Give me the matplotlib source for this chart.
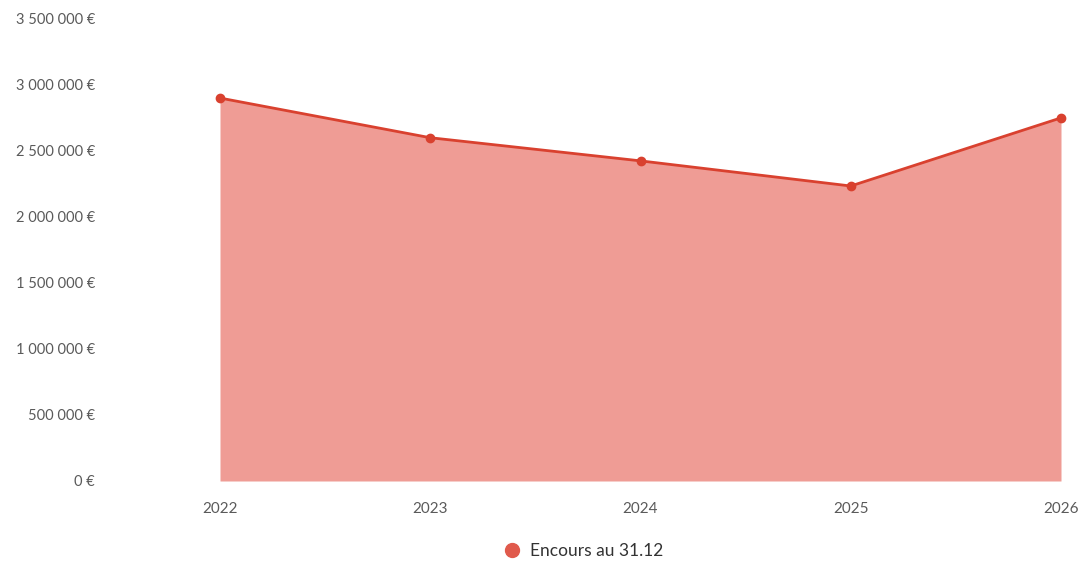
import matplotlib
matplotlib.use("Agg")
import matplotlib.pyplot as plt
from matplotlib.ticker import FuncFormatter
from matplotlib.lines import Line2D

years = [2022, 2023, 2024, 2025, 2026]
encours = [2895000, 2595000, 2420000, 2230000, 2745000]
y_ticks = [0, 500000, 1000000, 1500000, 2000000, 2500000, 3000000, 3500000]
series_label = "Encours au 31.12"

fill_color = "#ef9c95"
line_color = "#d9412f"
text_color = "#5a5a5a"

plt.rcParams["font.family"] = ["Lato", "DejaVu Sans"]

fig = plt.figure(figsize=(10.82, 5.66), dpi=100)
ax = fig.add_axes([220 / 1082, 1 - 481 / 566, (1061 - 220) / 1082, (481 - 18) / 566])

ax.fill_between(years, encours, 0, color=fill_color, linewidth=0, zorder=1)
ax.plot(years, encours, color=line_color, linewidth=2, marker="o",
        markersize=6, markerfacecolor=line_color, markeredgecolor=line_color,
        zorder=3, clip_on=False)

ax.set_xlim(years[0], years[-1])
ax.set_ylim(y_ticks[0], y_ticks[-1])
ax.set_xticks(years)
ax.set_xticklabels([str(y) for y in years])
ax.set_yticks(y_ticks)


def euro(v, _pos):
    return "{:,.0f} €".format(v).replace(",", " ")


ax.yaxis.set_major_formatter(FuncFormatter(euro))
ax.tick_params(axis="y", length=0, pad=90, labelsize=10.5, labelcolor=text_color)
ax.tick_params(axis="x", length=0, pad=15, labelsize=11, labelcolor=text_color)
for s in ax.spines.values():
    s.set_visible(False)
ax.grid(False)

handle = Line2D([], [], linestyle="none", marker="o", markersize=10,
                markerfacecolor="#e05a4c", markeredgecolor="#e05a4c")
fig.legend([handle], [series_label], loc="center", bbox_to_anchor=(0.535, 1 - 551 / 566),
           frameon=False, fontsize=12.5, handletextpad=0.0, labelcolor="#333333")

fig.savefig("out.png", dpi=100, facecolor="white")
